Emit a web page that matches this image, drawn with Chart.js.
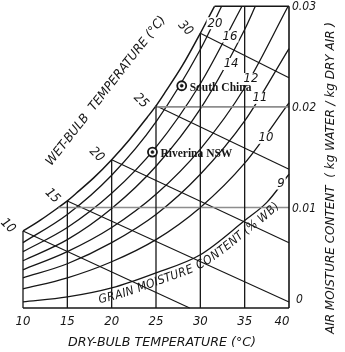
<!DOCTYPE html>
<html><head><meta charset="utf-8">
<script src="https://cdn.jsdelivr.net/npm/chart.js@4.4.1/dist/chart.umd.min.js"></script>
<style>html,body{margin:0;padding:0;background:#fff}canvas{display:block}</style>
</head><body>
<canvas id="c" width="345" height="352" style="width:345px;height:352px"></canvas>
<script>
// ---------- data ----------
const dryBulbTicks = [10, 15, 20, 25, 30, 35, 40];
const dryBulbTickLabels = ['10', '15', '20', '25', '30', '35', '40'];
const moistureTicks = [0, 0.01, 0.02, 0.03];
const moistureTickLabels = ['0', '0.01', '0.02', '0.03'];
const gridStartT = [10, 14.0, 24.9, 31.6];          // where each moisture line leaves the saturation curve

const satT = [10, 12, 14, 15, 16, 18, 20, 22, 24, 25, 26, 28, 30, 31, 31.6];
const satW = [0.00766, 0.00876, 0.01000, 0.01065, 0.01141, 0.01296, 0.01475, 0.01674, 0.01895, 0.02010, 0.02141, 0.02414, 0.02732, 0.02900, 0.03000];

const wetBulbT = [10, 15, 20, 25, 30];
const wetBulbLabels = ['10', '15', '20', '25', '30'];
const wetBulbStartW = [0.00766, 0.01065, 0.01475, 0.02010, 0.02732];
const wetBulbEndT = [28.8, 40, 40, 40, 40];
const wetBulbEndW = [0, 0.0006, 0.0065, 0.0138, 0.0229];

const grainLevels = ['20', '16', '14', '12', '11', '10', '9'];
const grain20T = [10, 15, 20, 25, 30, 32.4];
const grain20W = [0.0065, 0.0093, 0.0132, 0.0185, 0.0257, 0.0300];
const grain16T = [10, 15, 20, 25, 30, 34.7];
const grain16W = [0.0056, 0.0080, 0.0114, 0.0160, 0.0223, 0.0300];
const grain14T = [10, 15, 20, 25, 30, 35, 36.2];
const grain14W = [0.0047, 0.0068, 0.0099, 0.0141, 0.0198, 0.0277, 0.0300];
const grain12T = [10, 15, 20, 25, 30, 35, 39.9];
const grain12W = [0.0038, 0.0056, 0.0080, 0.0113, 0.0158, 0.0219, 0.0300];
const grain11T = [10, 15, 20, 25, 30, 35, 40];
const grain11W = [0.0030, 0.0044, 0.0065, 0.0093, 0.0133, 0.0186, 0.0258];
const grain10T = [10, 15, 20, 25, 30, 35, 40];
const grain10W = [0.0019, 0.0030, 0.0046, 0.0068, 0.0100, 0.0144, 0.0204];
const grain9T = [10, 15, 20, 25, 30, 35, 37.5, 40];
const grain9W = [0.0006, 0.0011, 0.0020, 0.0035, 0.0053, 0.0087, 0.0105, 0.0133];
const grainLabelT = [31.66, 33.35, 33.47, 35.72, 36.73, 37.41, 39.1];
const grainLabelW = [0.02832, 0.0270, 0.02426, 0.02277, 0.02089, 0.01693, 0.01238];
const grainCurveTitle = 'GRAIN MOISTURE CONTENT (% WB)';
const grainTitleFromT = 18.2, grainTitleToT = 37.9;

const siteNames = ['South China', 'Riverina NSW'];
const siteT = [27.9, 24.6];
const siteW = [0.0221, 0.0155];

const xTitle = 'DRY-BULB TEMPERATURE (°C)';
const yTitle = 'AIR MOISTURE CONTENT  ( kg WATER / kg DRY AIR )';
const wbTitle = 'WET-BULB  TEMPERATURE (°C)';

// ---------- datasets ----------
const INK = '#161616';
const pts = (xs, ys) => xs.map((x, i) => ({x, y: ys[i]}));
const line = (data, extra) => Object.assign({data, showLine: true, pointRadius: 0, borderColor: INK, borderWidth: 1.3, clip: false, fill: false}, extra || {});
const datasets = [];

// vertical dry-bulb lines
dryBulbTicks.forEach(t => {
  const i = satT.indexOf(t);
  const top = i >= 0 ? satW[i] : moistureTicks[moistureTicks.length - 1];
  datasets.push(line(pts([t, t], [0, top]), {borderWidth: t === 40 ? 1.6 : 1.3}));
});
// horizontal moisture lines
moistureTicks.forEach((w, i) => {
  const grey = (w !== 0 && w !== 0.03);
  datasets.push(line(pts([gridStartT[i], 40], [w, w]), {borderColor: grey ? '#8d8d8d' : INK, borderWidth: grey ? 1.6 : 1.5}));
});
// saturation curve
datasets.push(line(pts(satT, satW), {cubicInterpolationMode: 'monotone', borderWidth: 1.5}));
// wet-bulb lines
wetBulbT.forEach((t, i) => datasets.push(line(pts([t, wetBulbEndT[i]], [wetBulbStartW[i], wetBulbEndW[i]]), {borderWidth: 1.1})));
// grain moisture curves
const grainSets = [[grain20T, grain20W], [grain16T, grain16W], [grain14T, grain14W], [grain12T, grain12W], [grain11T, grain11W], [grain10T, grain10W], [grain9T, grain9W]];
let grain9Index = -1;
grainSets.forEach((g, i) => {
  if (grainLevels[i] === '9') grain9Index = datasets.length;
  datasets.push(line(pts(g[0], g[1]), {cubicInterpolationMode: 'monotone', borderWidth: 1.3}));
});
// site markers (ring + dot), drawn on top
datasets.push({data: pts(siteT, siteW), showLine: false, pointRadius: 4.5, pointBorderWidth: 1.8, pointBorderColor: INK, pointBackgroundColor: '#fff', clip: false, order: -1});
datasets.push({data: pts(siteT, siteW), showLine: false, pointRadius: 1.5, pointBorderWidth: 0.6, pointBorderColor: INK, pointBackgroundColor: INK, clip: false, order: -2});

// ---------- text plugin ----------
const HAND = "'DejaVu Sans Condensed','DejaVu Sans',sans-serif";
function fitText(ctx, text, x, y, width, size, rot) {
  ctx.save();
  ctx.font = `italic ${size}px ${HAND}`;
  const w = ctx.measureText(text).width;
  ctx.translate(x, y);
  if (rot) ctx.rotate(rot);
  if (width) ctx.scale(width / w, 1);
  ctx.textAlign = 'center'; ctx.textBaseline = 'middle';
  ctx.fillStyle = INK;
  ctx.fillText(text, 0, 0);
  ctx.restore();
}
function sampleCurve(meta) {
  const p = meta.data, out = [];
  for (let i = 0; i < p.length - 1; i++) {
    const a = p[i], b = p[i + 1];
    const c1x = a.cp2x ?? a.x, c1y = a.cp2y ?? a.y, c2x = b.cp1x ?? b.x, c2y = b.cp1y ?? b.y;
    for (let s = 0; s < 30; s++) {
      const t = s / 30, u = 1 - t;
      out.push({x: u*u*u*a.x + 3*u*u*t*c1x + 3*u*t*t*c2x + t*t*t*b.x,
                y: u*u*u*a.y + 3*u*u*t*c1y + 3*u*t*t*c2y + t*t*t*b.y});
    }
  }
  out.push({x: p[p.length - 1].x, y: p[p.length - 1].y});
  let L = 0; out[0].s = 0;
  for (let i = 1; i < out.length; i++) { L += Math.hypot(out[i].x - out[i-1].x, out[i].y - out[i-1].y); out[i].s = L; }
  return out;
}
function atLen(path, s) {
  for (let i = 1; i < path.length; i++) {
    if (path[i].s >= s) {
      const a = path[i-1], b = path[i], f = (s - a.s) / ((b.s - a.s) || 1);
      return {x: a.x + (b.x - a.x) * f, y: a.y + (b.y - a.y) * f, ang: Math.atan2(b.y - a.y, b.x - a.x)};
    }
  }
  const a = path[path.length - 2], b = path[path.length - 1];
  return {x: b.x, y: b.y, ang: Math.atan2(b.y - a.y, b.x - a.x)};
}
function lenAtX(path, x) {
  for (let i = 1; i < path.length; i++) if (path[i].x >= x) return path[i].s;
  return path[path.length - 1].s;
}

const textPlugin = {
  id: 'chartText',
  afterDatasetsDraw(chart) {
    const ctx = chart.ctx, xs = chart.scales.x, ys = chart.scales.y;
    const area = chart.chartArea;
    // bottom tick labels
    dryBulbTicks.forEach((t, i) => {
      const nudge = i === dryBulbTicks.length - 1 ? -7 : 0;
      fitText(ctx, dryBulbTickLabels[i], xs.getPixelForValue(t) + nudge, area.bottom + 14, 0, 13);
    });
    // right tick labels
    moistureTicks.forEach((w, i) => {
      const lab = moistureTickLabels[i];
      const y = ys.getPixelForValue(w) + (w === 0 ? -8 : 1);
      ctx.save();
      ctx.font = `italic 12px ${HAND}`;
      ctx.fillStyle = INK; ctx.textAlign = 'left'; ctx.textBaseline = 'middle';
      ctx.fillText(lab, area.right + (w === 0 ? 7 : 3), y);
      ctx.restore();
    });
    // axis titles
    fitText(ctx, xTitle, 162, area.bottom + 35, 188, 12.5);
    fitText(ctx, yTitle, area.right + 42, 178, 312, 12, -Math.PI / 2);
    fitText(ctx, wbTitle, 106, 91, 186, 12.5, -52 * Math.PI / 180);
    // wet-bulb labels
    wetBulbT.forEach((t, i) => {
      const x = xs.getPixelForValue(t) - 15, y = ys.getPixelForValue(wetBulbStartW[i]) - 5;
      fitText(ctx, wetBulbLabels[i], x, y, 0, 13, 45 * Math.PI / 180);
    });
    // grain labels with a small gap in the curve
    grainLevels.forEach((g, i) => {
      const x = xs.getPixelForValue(grainLabelT[i]), y = ys.getPixelForValue(grainLabelW[i]);
      ctx.save();
      ctx.font = `italic 13px ${HAND}`;
      const w = ctx.measureText(g).width;
      ctx.fillStyle = '#fff';
      ctx.fillRect(x - w / 2 - 1, y - 6, w + 2, 12);
      ctx.restore();
      fitText(ctx, g, x, y, 0, 13);
    });
    // grain moisture title along the 9 % curve
    const path = sampleCurve(chart.getDatasetMeta(grain9Index));
    const s0 = lenAtX(path, xs.getPixelForValue(grainTitleFromT));
    const s1 = lenAtX(path, xs.getPixelForValue(grainTitleToT));
    ctx.save();
    ctx.font = `italic 12px ${HAND}`;
    const chars = [...grainCurveTitle];
    const widths = chars.map(c => ctx.measureText(c).width);
    const total = widths.reduce((a, b) => a + b, 0);
    const gap = (s1 - s0 - total) / (chars.length - 1);
    let s = s0;
    ctx.fillStyle = INK; ctx.textAlign = 'center'; ctx.textBaseline = 'middle';
    chars.forEach((c, i) => {
      const p = atLen(path, s + widths[i] / 2);
      const nx = -Math.sin(p.ang), ny = Math.cos(p.ang);
      ctx.save();
      ctx.translate(p.x + nx * 9, p.y + ny * 9);
      ctx.rotate(p.ang);
      ctx.fillText(c, 0, 0);
      ctx.restore();
      s += widths[i] + gap;
    });
    ctx.restore();
    // site labels
    ctx.save();
    ctx.font = "bold 11.5px 'Liberation Serif','Times New Roman',serif";
    ctx.fillStyle = INK; ctx.textAlign = 'left'; ctx.textBaseline = 'middle';
    siteNames.forEach((n, i) => {
      ctx.fillText(n, xs.getPixelForValue(siteT[i]) + 8, ys.getPixelForValue(siteW[i]) + 2);
    });
    ctx.restore();
  }
};

new Chart(document.getElementById('c'), {
  type: 'scatter',
  data: {datasets},
  options: {
    responsive: false, animation: false, devicePixelRatio: 1,
    layout: {padding: {left: 23, right: 56, top: 5, bottom: 44}},
    scales: {
      x: {type: 'linear', min: 10, max: 40, display: false},
      y: {type: 'linear', min: 0, max: 0.03, display: false}
    },
    plugins: {legend: {display: false}, tooltip: {enabled: false}},
    elements: {point: {radius: 0, hoverRadius: 0}}
  },
  plugins: [textPlugin]
});
</script>
</body></html>
